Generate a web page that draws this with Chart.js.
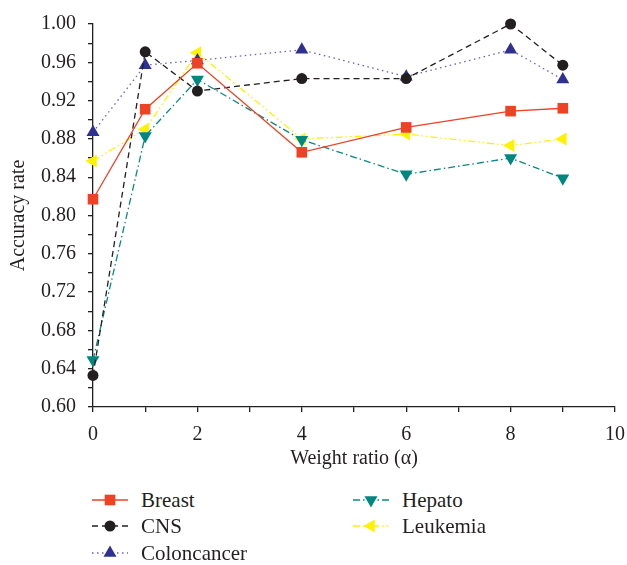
<!DOCTYPE html>
<html>
<head>
<meta charset="utf-8">
<script src="https://cdn.jsdelivr.net/npm/chart.js@4"></script>
<style>
  html, body { margin: 0; padding: 0; background: #fff; }
  #wrap { position: relative; width: 627px; height: 565px; }
  #chart { position: absolute; left: 0; top: 0; }
  .leg { position: absolute; height: 24px; display: flex; align-items: center;
         font-family: "Liberation Serif", serif; font-size: 21px; color: #231f20; }
  .leg canvas { margin-right: 13px; }
</style>
</head>
<body>
<div id="wrap">
  <canvas id="chart" width="627" height="480"></canvas>
</div>
<script>
// data
const weightRatio = [0, 1, 2, 4, 6, 8, 9];
const seriesNames = ["Breast", "CNS", "Coloncancer", "Hepato", "Leukemia"];
const breast      = [0.817, 0.911, 0.959, 0.866, 0.892, 0.909, 0.912];
const cns         = [0.633, 0.971, 0.930, 0.943, 0.943, 1.000, 0.957];
const coloncancer = [0.887, 0.957, 0.962, 0.973, 0.945, 0.973, 0.942];
const hepato      = [0.649, 0.883, 0.942, 0.879, 0.843, 0.860, 0.839];
const leukemia    = [0.857, 0.890, 0.970, 0.880, 0.885, 0.873, 0.880];
const yTicks = [0.60, 0.64, 0.68, 0.72, 0.76, 0.80, 0.84, 0.88, 0.92, 0.96, 1.00];
const xTicks = [0, 2, 4, 6, 8, 10];

const ink = "#231f20";
Chart.defaults.font.family = "Liberation Serif";
Chart.defaults.color = ink;

const toPoints = (vals) => vals.map((v, i) => ({ x: weightRatio[i], y: v }));

// line style per series
const styles = [
  { line: "#ef4123", fill: "#ef4123", dash: [], point: "rect", rot: 0, r: 7.5 },
  { line: "#231f20", fill: "#231f20", dash: [6, 4], point: "circle", rot: 0, r: 5.5 },
  { line: "#6a62bb", fill: "#2e3192", dash: [1.5, 3.5], point: "triangle", rot: 0, r: 7.5 },
  { line: "#0b8a82", fill: "#00877f", dash: [7, 3, 1.5, 3], point: "triangle", rot: 180, r: 7.5 },
  { line: "#fff200", fill: "#fff200", dash: [7, 3, 1.5, 3, 1.5, 3], point: "triangle", rot: -90, r: 7.5 },
];
const allValues = [breast, cns, coloncancer, hepato, leukemia];

const datasets = seriesNames.map((name, i) => ({
  label: name,
  data: toPoints(allValues[i]),
  borderColor: styles[i].line,
  borderWidth: 1.3,
  borderDash: styles[i].dash,
  pointStyle: styles[i].point,
  rotation: styles[i].rot,
  pointRadius: styles[i].r,
  pointBackgroundColor: styles[i].fill,
  pointBorderColor: styles[i].fill,
  pointBorderWidth: 0,
  tension: 0,
  clip: false,
}));

new Chart(document.getElementById("chart"), {
  type: "line",
  data: { datasets: datasets },
  options: {
    responsive: false,
    animation: false,
    layout: { padding: { left: 0, right: 12, top: 24, bottom: 0 } },
    plugins: { legend: { display: false }, tooltip: { enabled: false } },
    scales: {
      x: {
        type: "linear",
        min: 0,
        max: 10,
        afterFit: (s) => { s.height = 73; s.paddingLeft = 0; s.paddingRight = 0; },
        border: { display: true, color: ink, width: 1.3 },
        grid: { drawOnChartArea: false, color: ink, tickLength: 5, lineWidth: 1.3 },
        ticks: {
          stepSize: 1,
          autoSkip: false,
          maxRotation: 0,
          padding: 11,
          font: { size: 20 },
          callback: (v) => (xTicks.includes(v) ? String(v) : ""),
        },
        title: {
          display: true,
          text: "Weight ratio (α)",
          font: { size: 20 },
          padding: { top: 0, bottom: 9 },
        },
      },
      y: {
        min: 0.6,
        max: 1.0,
        afterFit: (s) => { s.width = 93; s.paddingTop = 0; s.paddingBottom = 0; },
        border: { display: true, color: ink, width: 1.3 },
        grid: { drawOnChartArea: false, color: ink, tickLength: 5, lineWidth: 1.3 },
        ticks: {
          stepSize: 0.02,
          autoSkip: false,
          padding: 12,
          font: { size: 20 },
          callback: (v) => {
            const hit = yTicks.find((t) => Math.abs(t - v) < 1e-6);
            return hit !== undefined ? hit.toFixed(2) : "";
          },
        },
        title: {
          display: true,
          text: "Accuracy rate",
          font: { size: 20 },
          padding: { top: 7, bottom: 0 },
        },
      },
    },
  },
});

// legend below the plot, 2 columns like the figure
function drawSample(cv, st) {
  const g = cv.getContext("2d");
  const w = cv.width, h = cv.height, cy = h / 2, cx = w / 2;
  g.strokeStyle = st.line;
  g.lineWidth = 1.3;
  g.setLineDash(st.dash);
  g.beginPath(); g.moveTo(0, cy); g.lineTo(w, cy); g.stroke();
  g.setLineDash([]);
  g.fillStyle = st.fill;
  g.beginPath();
  if (st.point === "rect") {
    const s = st.r * Math.SQRT1_2;
    g.rect(cx - s, cy - s, 2 * s, 2 * s);
  } else if (st.point === "circle") {
    g.arc(cx, cy, st.r, 0, Math.PI * 2);
  } else {
    let a = st.rot * Math.PI / 180;
    for (let k = 0; k < 3; k++) {
      const px = cx + Math.sin(a) * st.r, py = cy - Math.cos(a) * st.r;
      k === 0 ? g.moveTo(px, py) : g.lineTo(px, py);
      a += Math.PI * 2 / 3;
    }
    g.closePath();
  }
  g.fill();
}

const legendCols = [92, 353];
const legendRows = [500, 526, 553];
seriesNames.forEach((name, i) => {
  const col = Math.floor(i / 3), row = i % 3;
  const item = document.createElement("div");
  item.className = "leg";
  item.style.left = legendCols[col] + "px";
  item.style.top = (legendRows[row] - 12) + "px";
  const cv = document.createElement("canvas");
  cv.width = 36; cv.height = 20;
  item.appendChild(cv);
  const span = document.createElement("span");
  span.textContent = name;
  item.appendChild(span);
  document.getElementById("wrap").appendChild(item);
  drawSample(cv, styles[i]);
});
</script>
</body>
</html>
